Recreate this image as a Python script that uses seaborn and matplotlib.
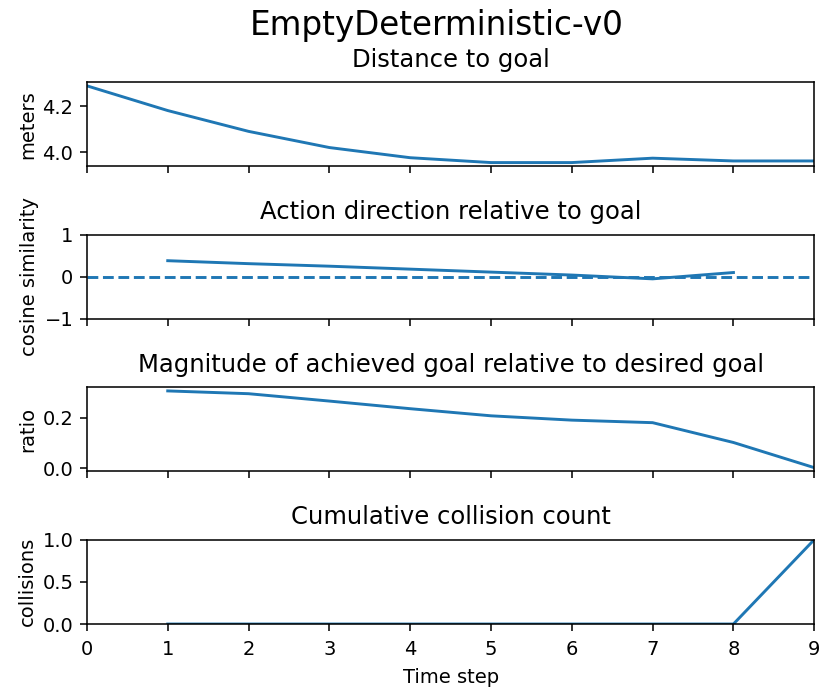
import numpy as np
import pandas as pd
import matplotlib
matplotlib.use("Agg")
import matplotlib.pyplot as plt
import seaborn as sns

# Data
steps_dist = [0, 1, 2, 3, 4, 5, 6, 7, 8, 9]
distance = [4.288, 4.181, 4.091, 4.021, 3.977, 3.956, 3.956, 3.975, 3.963, 3.963]

steps_dir = [1, 2, 3, 4, 5, 6, 7, 8]
cos_sim = [0.38, 0.31, 0.25, 0.18, 0.11, 0.04, -0.05, 0.10]

steps_ratio = [1, 2, 3, 4, 5, 6, 7, 8, 9]
ratio = [0.305, 0.294, 0.265, 0.235, 0.207, 0.19, 0.18, 0.102, 0.003]

steps_coll = [1, 2, 3, 4, 5, 6, 7, 8, 9]
collisions = [0, 0, 0, 0, 0, 0, 0, 0, 1]

titles = ["Distance to goal", "Action direction relative to goal",
          "Magnitude of achieved goal relative to desired goal",
          "Cumulative collision count"]
ylabels = ["meters", "cosine similarity", "ratio", "collisions"]

S = 1.4
plt.rcParams.update({
    "font.size": 10 * S,
    "axes.linewidth": 0.8 * S,
    "xtick.major.width": 0.8 * S,
    "ytick.major.width": 0.8 * S,
    "xtick.major.size": 3.5 * S,
    "ytick.major.size": 3.5 * S,
    "xtick.major.pad": 3.5 * S + 1.5,
    "ytick.major.pad": 3.5 * S,
    "xtick.labelsize": 10 * S,
    "ytick.labelsize": 10 * S,
    "axes.titlesize": 17.5,
    "axes.labelsize": 10 * S,
    "axes.titlepad": 11,
})

fig, axes = plt.subplots(4, 1, figsize=(8.2, 6.89), dpi=100, sharex=True)
fig.subplots_adjust(left=0.106, right=0.993, top=0.881, bottom=0.0943, hspace=0.807)
c0 = "#1f77b4"
lw = 1.5 * S

sns.lineplot(x=steps_dist, y=distance, ax=axes[0], color=c0, linewidth=lw)
sns.lineplot(x=steps_dir, y=cos_sim, ax=axes[1], color=c0, linewidth=lw)
axes[1].axhline(0, color=c0, linestyle="--", linewidth=lw)
axes[1].set_ylim(-1, 1)
axes[1].set_yticks([-1, 0, 1])
sns.lineplot(x=steps_ratio, y=ratio, ax=axes[2], color=c0, linewidth=lw)
axes[2].set_yticks([0.0, 0.2])
sns.lineplot(x=steps_coll, y=collisions, ax=axes[3], color=c0, linewidth=lw)
axes[3].set_ylim(0, 1)
axes[3].set_yticks([0.0, 0.5, 1.0])
axes[0].set_yticks([4.0, 4.2])

for ax, t, yl in zip(axes, titles, ylabels):
    ax.set_title(t)
    ax.set_ylabel(yl)
axes[3].set_xlim(0, 9)
axes[3].set_xticks(range(10))
axes[3].set_xlabel("Time step", labelpad=7)

fig.suptitle("EmptyDeterministic-v0", fontsize=23.5, x=0.533, y=0.987)
fig.savefig("out.png", dpi=100)
